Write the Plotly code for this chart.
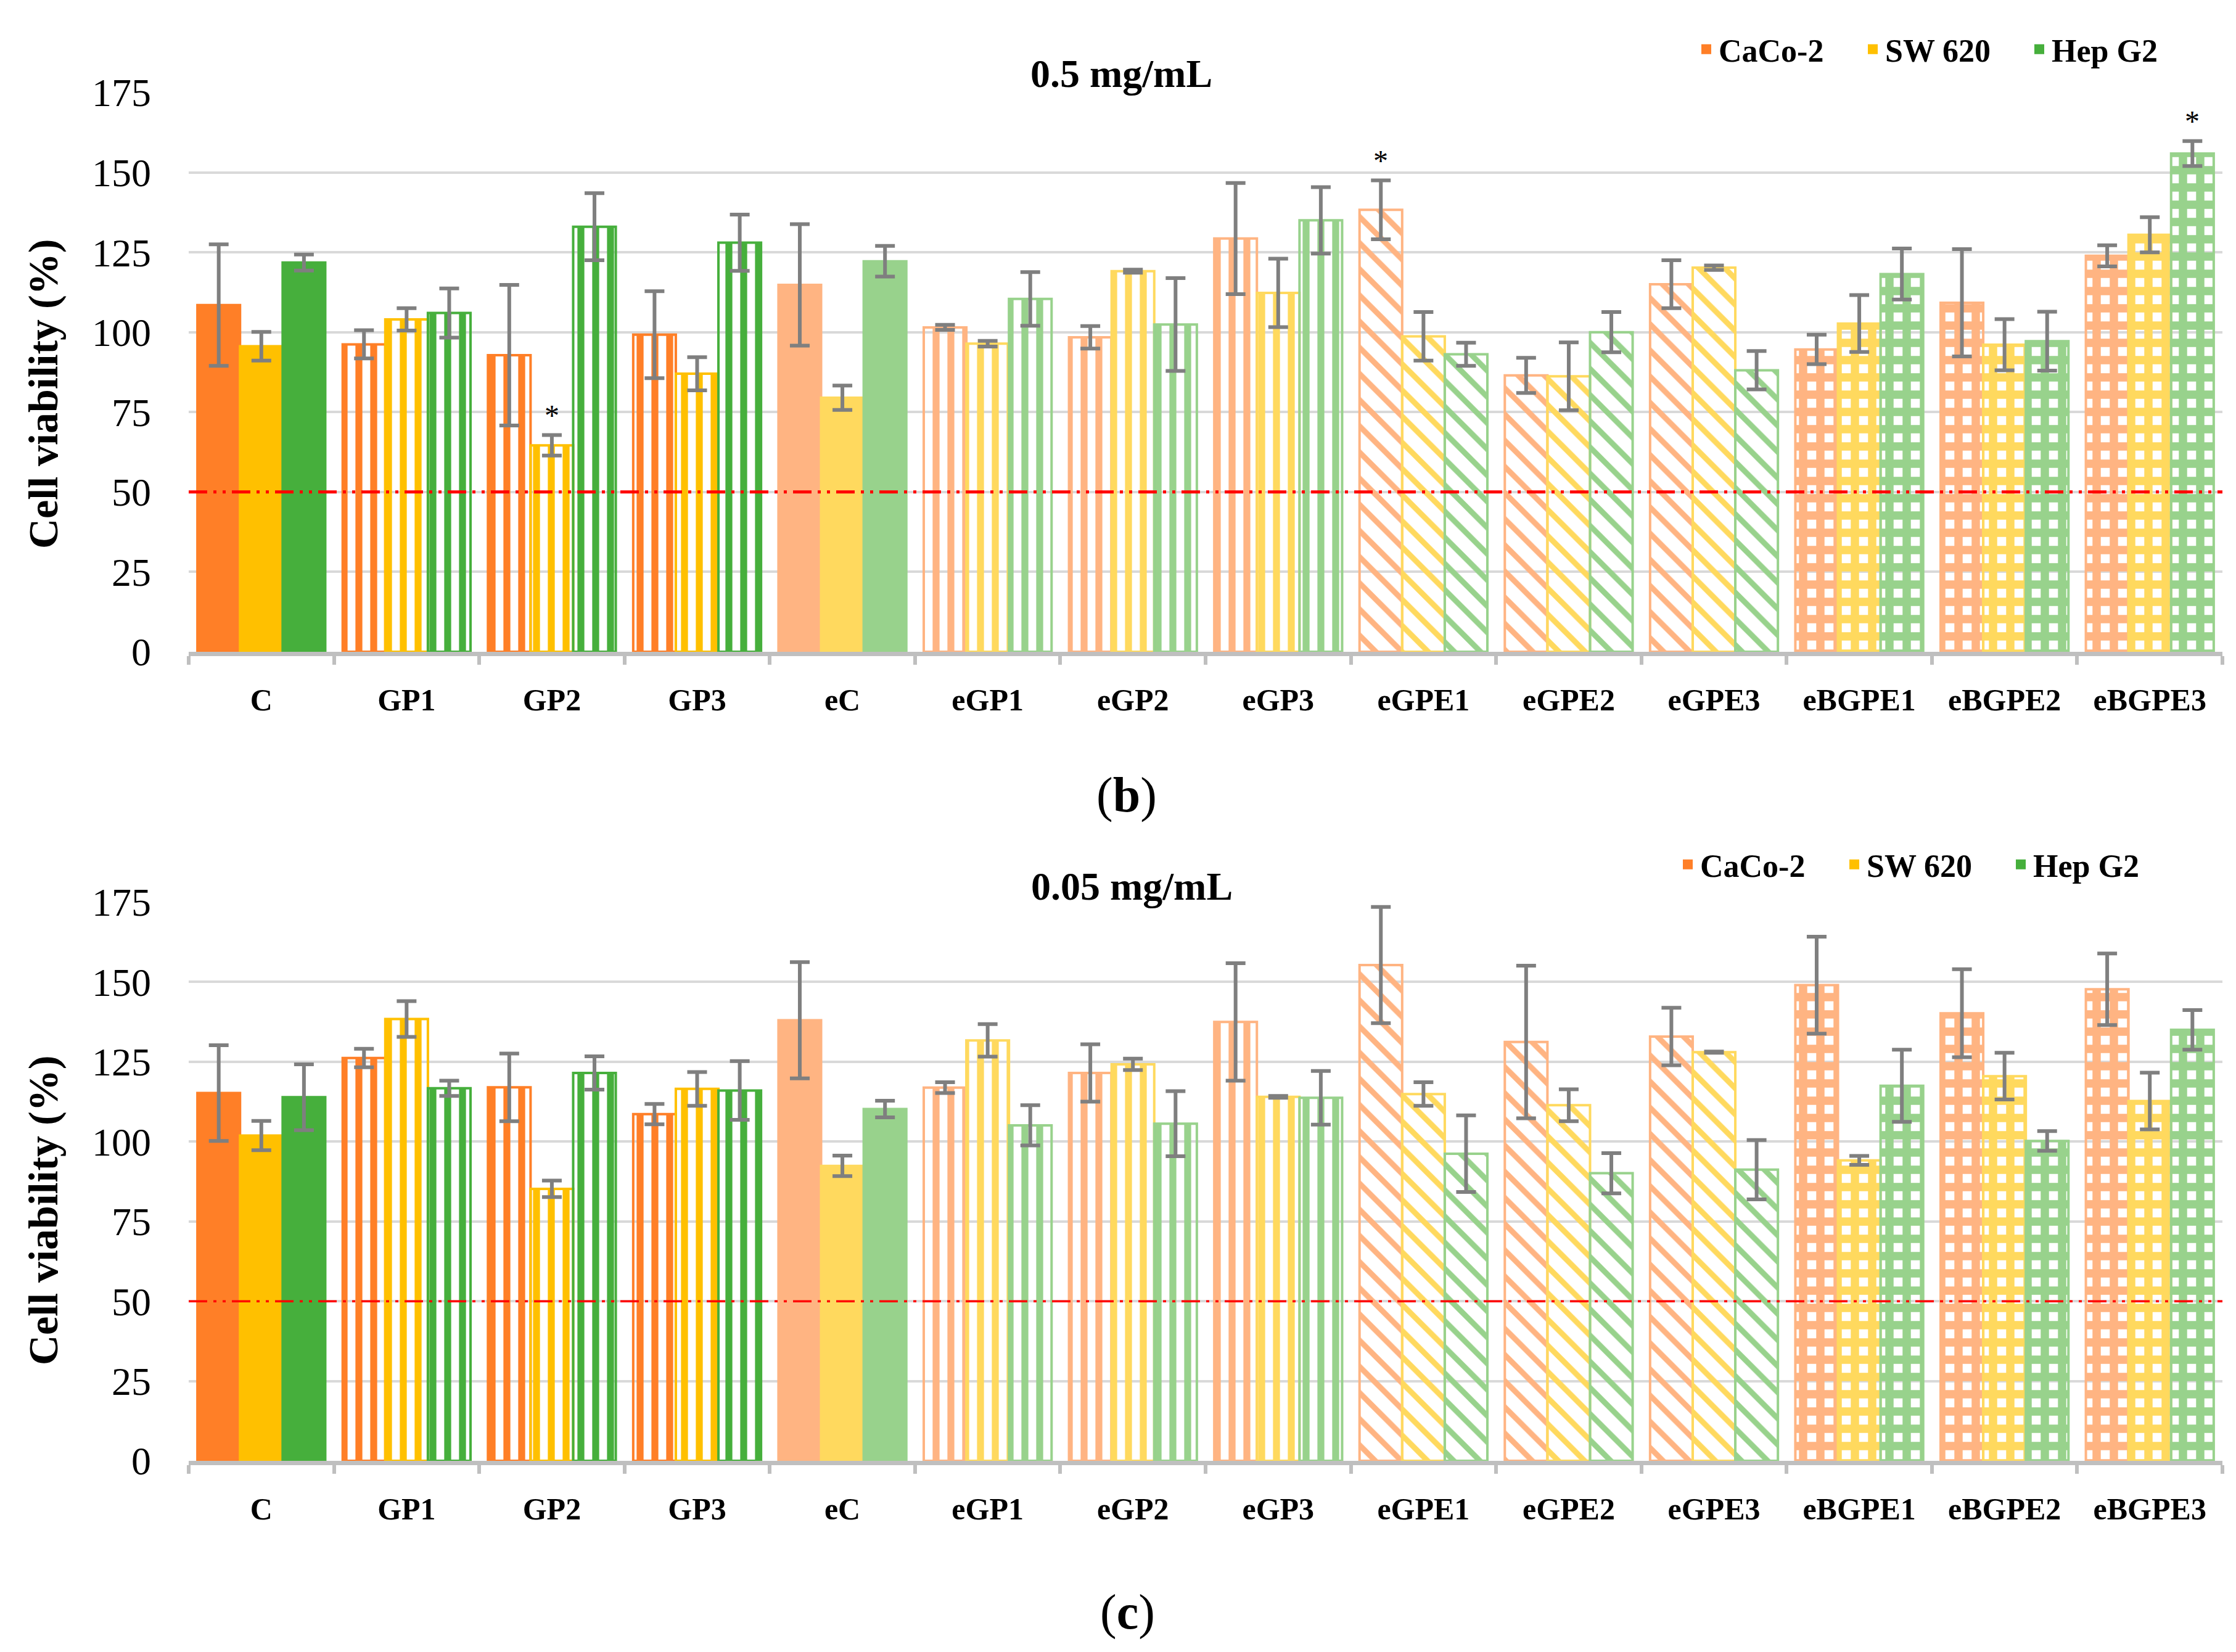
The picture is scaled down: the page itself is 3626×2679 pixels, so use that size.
import plotly.graph_objects as go

# ---------------- data ----------------
categories = ["C", "GP1", "GP2", "GP3", "eC", "eGP1", "eGP2", "eGP3",
              "eGPE1", "eGPE2", "eGPE3", "eBGPE1", "eBGPE2", "eBGPE3"]
series_names = ["CaCo-2", "SW 620", "Hep G2"]

# 0.5 mg/mL
caco2_05 = [108.5, 96.2, 92.8, 99.2, 114.8, 101.5, 98.4, 129.3, 138.3, 86.5, 115.0, 94.6, 109.2, 123.9]
caco2_05_err = [19.0, 4.4, 22.0, 13.6, 19.0, 0.8, 3.5, 17.4, 9.2, 5.5, 7.5, 4.6, 16.8, 3.3]
sw620_05 = [95.6, 104.0, 64.6, 87.0, 79.5, 96.4, 119.1, 112.3, 98.7, 86.2, 120.2, 102.7, 96.1, 130.5]
sw620_05_err = [4.5, 3.5, 3.2, 5.2, 3.8, 0.9, 0.5, 10.7, 7.6, 10.6, 0.7, 8.9, 8.0, 5.5]
hepg2_05 = [121.8, 106.0, 133.0, 128.0, 122.2, 110.4, 102.4, 135.0, 93.1, 100.0, 88.1, 118.2, 97.2, 155.9]
hepg2_05_err = [2.5, 7.7, 10.5, 8.8, 4.8, 8.4, 14.5, 10.4, 3.6, 6.3, 6.0, 8.0, 9.2, 3.9]

# 0.05 mg/mL
caco2_005 = [115.2, 126.2, 117.0, 108.6, 138.0, 116.9, 121.5, 137.5, 155.3, 131.2, 132.9, 149.0, 140.2, 147.7]
caco2_005_err = [15.0, 2.9, 10.6, 3.2, 18.2, 1.7, 9.0, 18.4, 18.2, 23.9, 9.0, 15.2, 13.8, 11.2]
sw620_005 = [101.9, 138.4, 85.2, 116.5, 92.4, 131.7, 124.2, 114.0, 114.9, 111.4, 128.0, 94.1, 120.5, 112.7]
sw620_005_err = [4.6, 5.6, 2.6, 5.3, 3.2, 5.1, 1.8, 0.3, 3.7, 5.0, 0.2, 1.4, 7.3, 8.9]
hepg2_005 = [113.9, 116.7, 121.5, 116.0, 110.2, 105.1, 105.6, 113.7, 96.2, 90.1, 91.2, 117.5, 100.2, 135.0]
hepg2_005_err = [10.3, 2.4, 5.2, 9.2, 2.6, 6.3, 10.2, 8.4, 12.0, 6.3, 9.3, 11.3, 3.1, 6.2]

# significance marks: (category, series index)
stars_05 = [("GP2", 1), ("eGPE1", 0), ("eBGPE3", 2)]
stars_005 = []

threshold = 50
panel_titles = ["0.5 mg/mL", "0.05 mg/mL"]
panel_labels = ["(b)", "(c)"]

# ---------------- styles ----------------
dark_colors = ["#FF7F27", "#FFC000", "#46AF3C"]
light_colors = ["#FFB482", "#FFD95E", "#98D28C"]
tone = ["dark"] * 4 + ["light"] * 10
fill_style = ["solid", "vs", "vs", "vs", "solid", "vs", "vs", "vs",
              "diag", "diag", "diag", "check", "check", "check"]
shape_map = {"solid": "", "vs": "|", "diag": "\\", "check": "+"}
size_map = {"solid": 20, "vs": 24, "diag": 30, "check": 28}
solid_map = {"solid": 0.5, "vs": 0.47, "diag": 0.3, "check": 0.73}

FONT = "Liberation Serif"
ERR_COLOR = "#7F7F7F"
W, H = 3626, 2679
OFF = 8  # page body margin of the html page


def xp(px):
    return (px - OFF) / W


def yp(py):
    return 1 - (py - OFF) / H


fig = go.Figure()

panels = [
    dict(vals=[caco2_05, sw620_05, hepg2_05], errs=[caco2_05_err, sw620_05_err, hepg2_05_err],
         xa="x", ya="y", legend="legend", stars=stars_05),
    dict(vals=[caco2_005, sw620_005, hepg2_005], errs=[caco2_005_err, sw620_005_err, hepg2_005_err],
         xa="x2", ya="y2", legend="legend2", stars=stars_005),
]

for p in panels:
    for si, name in enumerate(series_names):
        cols = [dark_colors[si] if t == "dark" else light_colors[si] for t in tone]
        fig.add_trace(go.Bar(
            x=categories, y=p["vals"][si], name=name,
            xaxis=p["xa"], yaxis=p["ya"], showlegend=False,
            marker=dict(
                color=cols,
                line=dict(color=cols, width=4),
                pattern=dict(
                    shape=[shape_map[s] for s in fill_style],
                    fgcolor=cols,
                    bgcolor=["white" if s != "solid" else c for s, c in zip(fill_style, cols)],
                    size=[size_map[s] for s in fill_style],
                    solidity=[solid_map[s] for s in fill_style],
                    fillmode="replace",
                ),
            ),
            error_y=dict(type="data", array=p["errs"][si], visible=True,
                         color=ERR_COLOR, thickness=6, width=16),
        ))
    # legend entries (square swatches in the series colours)
    for si, name in enumerate(series_names):
        fig.add_trace(go.Scatter(
            x=[None], y=[None], mode="markers", name=name,
            xaxis=p["xa"], yaxis=p["ya"], legend=p["legend"], showlegend=True,
            marker=dict(symbol="square", size=16, color=dark_colors[si]),
            hoverinfo="skip",
        ))

# domains
x_dom = [xp(306), xp(3604)]
y_dom_top = [yp(1057), yp(150)]
y_dom_bot = [yp(2369), yp(1463)]


def xaxis_cfg(anchor):
    return dict(domain=x_dom, anchor=anchor, type="category",
                showline=True, linecolor="#BFBFBF", linewidth=7,
                ticks="outside", tickson="boundaries", ticklen=14, tickwidth=6,
                tickcolor="#BFBFBF", ticklabelstandoff=28,
                tickfont=dict(family=FONT, size=50, color="black", weight="bold"),
                showgrid=False, zeroline=False)


def yaxis_cfg(anchor, dom):
    return dict(domain=dom, anchor=anchor, range=[0, 175], dtick=25,
                showgrid=True, gridcolor="#D9D9D9", gridwidth=4,
                zeroline=False, showline=False, ticks="", ticklabelstandoff=60,
                tickfont=dict(family=FONT, size=64, color="black"))


# threshold lines
shapes = []
for xa, ya, w in [("x", "y", 5), ("x2", "y2", 3.5)]:
    shapes.append(dict(type="line", xref=xa + " domain", yref=ya, x0=0, x1=1,
                       y0=threshold, y1=threshold, layer="above",
                       line=dict(color="#FF0000", width=w, dash="30px,10px,5px,10px,5px,10px")))

# annotations
annotations = []
title_pos = [(xp(1818), yp(119)), (xp(1835), yp(1437))]
for (tx, ty), t in zip(title_pos, panel_titles):
    annotations.append(dict(text=t, x=tx, y=ty, xref="paper", yref="paper",
                            showarrow=False, xanchor="center", yanchor="middle",
                            font=dict(family=FONT, size=64, color="black", weight="bold")))
label_pos = [(xp(1827), yp(1290)), (xp(1828), yp(2614))]
for (lx, ly), t in zip(label_pos, panel_labels):
    inner = t[1:-1]
    annotations.append(dict(text="(<b>" + inner + "</b>)", x=lx, y=ly, xref="paper", yref="paper",
                            showarrow=False, xanchor="center", yanchor="middle",
                            font=dict(family=FONT, size=80, color="black")))
ytitle_pos = [yp(639), yp(1963)]
for yy in ytitle_pos:
    annotations.append(dict(text="Cell viability (%)", x=xp(70), y=yy, xref="paper", yref="paper",
                            showarrow=False, textangle=-90, xanchor="center", yanchor="middle",
                            font=dict(family=FONT, size=68, color="black", weight="bold")))

bar_w_px = (x_dom[1] - x_dom[0]) * W / len(categories) * 0.88 / 3
for p in panels:
    for cat, si in p["stars"]:
        i = categories.index(cat)
        annotations.append(dict(text="*", x=cat, y=p["vals"][si][i] + p["errs"][si][i],
                                xref=p["xa"], yref=p["ya"], showarrow=False,
                                xshift=(si - 1) * bar_w_px, yshift=4, yanchor="bottom",
                                font=dict(family=FONT, size=48, color="black")))

legend_common = dict(orientation="h", xanchor="left", yanchor="middle",
                     bgcolor="rgba(0,0,0,0)", itemsizing="trace", itemwidth=30,
                     entrywidth=225, entrywidthmode="pixels",
                     font=dict(family=FONT, size=52, color="black", weight="bold"),
                     itemclick=False, itemdoubleclick=False, tracegroupgap=0)

fig.update_layout(
    width=W, height=H,
    margin=dict(l=0, r=0, t=0, b=0, pad=0, autoexpand=False),
    paper_bgcolor="white", plot_bgcolor="white",
    barmode="group", bargap=0.12, bargroupgap=0,
    xaxis=xaxis_cfg("y"), yaxis=yaxis_cfg("x", y_dom_top),
    xaxis2=xaxis_cfg("y2"), yaxis2=yaxis_cfg("x2", y_dom_bot),
    legend=dict(x=xp(2747), y=yp(80), **legend_common),
    legend2=dict(x=xp(2717), y=yp(1402), **legend_common),
    shapes=shapes, annotations=annotations,
    showlegend=True,
)

fig.write_html("out.html")
